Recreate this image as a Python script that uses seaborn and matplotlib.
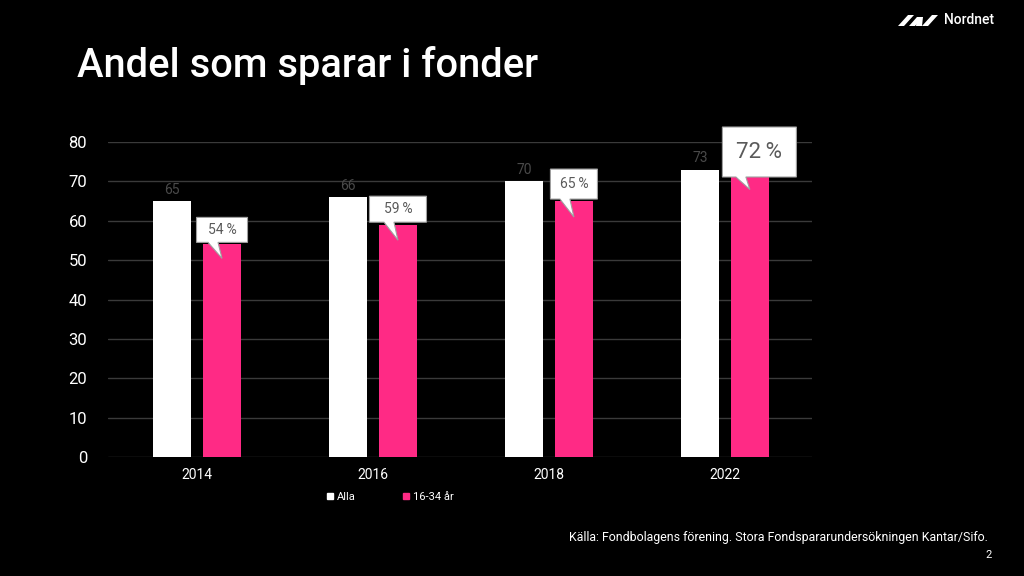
import matplotlib
matplotlib.use("Agg")
import matplotlib.pyplot as plt
import seaborn as sns
import pandas as pd
from matplotlib.patches import Polygon
from matplotlib.lines import Line2D

years = ["2014", "2016", "2018", "2022"]
alla = [65, 66, 70, 73]
unga = [54, 59, 65, 72]
series_names = ["Alla", "16-34 år"]
callout_labels = ["54 %", "59 %", "65 %", "72 %"]

df = pd.DataFrame({
    "year": years * 2,
    "value": alla + unga,
    "series": [series_names[0]] * 4 + [series_names[1]] * 4,
})

sns.set_theme(style="dark")
plt.rcParams["font.family"] = ["Roboto", "DejaVu Sans"]

WHITE = "#ffffff"
PINK = "#ff2a85"
GRID = "#3a3a3a"

fig = plt.figure(figsize=(10.24, 5.76), dpi=100, facecolor="black")
ax = fig.add_axes([108 / 1024, 1 - 457 / 576, 704 / 1024, 315 / 576])
ax.set_facecolor("black")

sns.barplot(data=df, x="year", y="value", hue="series", order=years,
            hue_order=series_names, palette=[WHITE, PINK], width=0.568,
            gap=0.225, ax=ax, legend=False, saturation=1, linewidth=0,
            edgecolor="none")

ax.set_ylim(0, 80)
ax.set_xlim(-0.506, 3.495)
ax.set_yticks(range(0, 81, 10))
ax.yaxis.grid(True, color=GRID, linewidth=1)
ax.xaxis.grid(False)
ax.set_axisbelow(True)
for s in ax.spines.values():
    s.set_visible(False)
ax.tick_params(axis="y", colors="white", labelsize=12, length=0, pad=15)
ax.tick_params(axis="x", colors="white", labelsize=10, length=0, pad=8)
ax.set_xlabel("")
ax.set_ylabel("")

# value labels for "Alla"
alla_bars = ax.containers[0]
ax.bar_label(alla_bars, labels=[str(v) for v in alla], color="#4a4a4a",
             fontsize=10, padding=3)

# callouts for 16-34
fig.canvas.draw()
pink_bars = ax.containers[1]
# (left, right, bottom_above_top, height, tip_below_top, tail_l, tail_r, fontsize)
specs = [
    (-25.5, 25.5, 2, 25, 14, -14, -4, 10),
    (-28.5, 28.5, 2.5, 26, 15.5, -14, -4, 10),
    (-23.5, 23.5, 2, 30, 16, -14, -4, 10),
    (-27.5, 46.5, -3.5, 50, 16, -14, -4, 16),
]
for bar, lab, sp in zip(pink_bars, callout_labels, specs):
    cx = bar.get_x() + bar.get_width() / 2
    top = bar.get_height()
    px, py = ax.transData.transform((cx, top))
    l, r, b, h, tip, tl, tr, fs = sp
    yb = py + b
    yt = yb + h
    pts = [(px + l, yb), (px + tl, yb), (px, py - tip), (px + tr, yb),
           (px + r, yb), (px + r, yt), (px + l, yt)]
    poly = Polygon(pts, closed=True, transform=None, facecolor="white",
                   edgecolor="#a0a0a0", linewidth=0.8, zorder=5, clip_on=False)
    fig.add_artist(poly)
    fx = (px + (l + r) / 2) / fig.bbox.width
    fy = (yb + h / 2) / fig.bbox.height
    fig.text(fx, fy, lab.replace(" ", "\u2009"), ha="center", va="center",
             fontsize=fs, color="#5a5a5a", zorder=6)

# legend
handles = [Line2D([], [], marker="s", linestyle="", color=c, markersize=5)
           for c in [WHITE, PINK]]
leg = fig.legend(handles, series_names, loc="center",
                 bbox_to_anchor=(389 / 1024, 1 - 497 / 576), ncol=2,
                 frameon=False, fontsize=8, handletextpad=0.1,
                 columnspacing=4.0, handlelength=1)
for t in leg.get_texts():
    t.set_color("white")

# title
fig.text(77 / 1024, 1 - 77 / 576, "Andel som sparar i fonder", color="white",
         fontsize=28.7, fontweight="medium", ha="left", va="baseline")

# source + page
fig.text(988 / 1024, 1 - 537 / 576,
         "Källa: Fondbolagens förening. Stora Fondspararundersökningen Kantar/Sifo.",
         color="white", fontsize=8.9, ha="right", va="center")
fig.text(992 / 1024, 1 - 555 / 576, "2", color="white", fontsize=8,
         ha="right", va="center")

# logo
W, H = 1024, 576
def fpoly(pts):
    fig.add_artist(Polygon([(x / W, 1 - y / H) for x, y in pts], closed=True,
                           transform=fig.transFigure, facecolor="white",
                           edgecolor="none"))
fpoly([(898, 26), (904, 26), (914, 15), (908, 15)])
fpoly([(909, 26), (915, 26), (923, 17), (917, 17)])
fpoly([(917, 17), (923, 17), (922, 26), (916, 26)])
fpoly([(922, 26), (928, 26), (938, 15), (932, 15)])
fig.text(944 / W, 1 - 20 / H, "Nordnet", color="white", fontsize=10,
         fontweight="medium", ha="left", va="center")

fig.savefig("out.png", dpi=100, facecolor="black")
